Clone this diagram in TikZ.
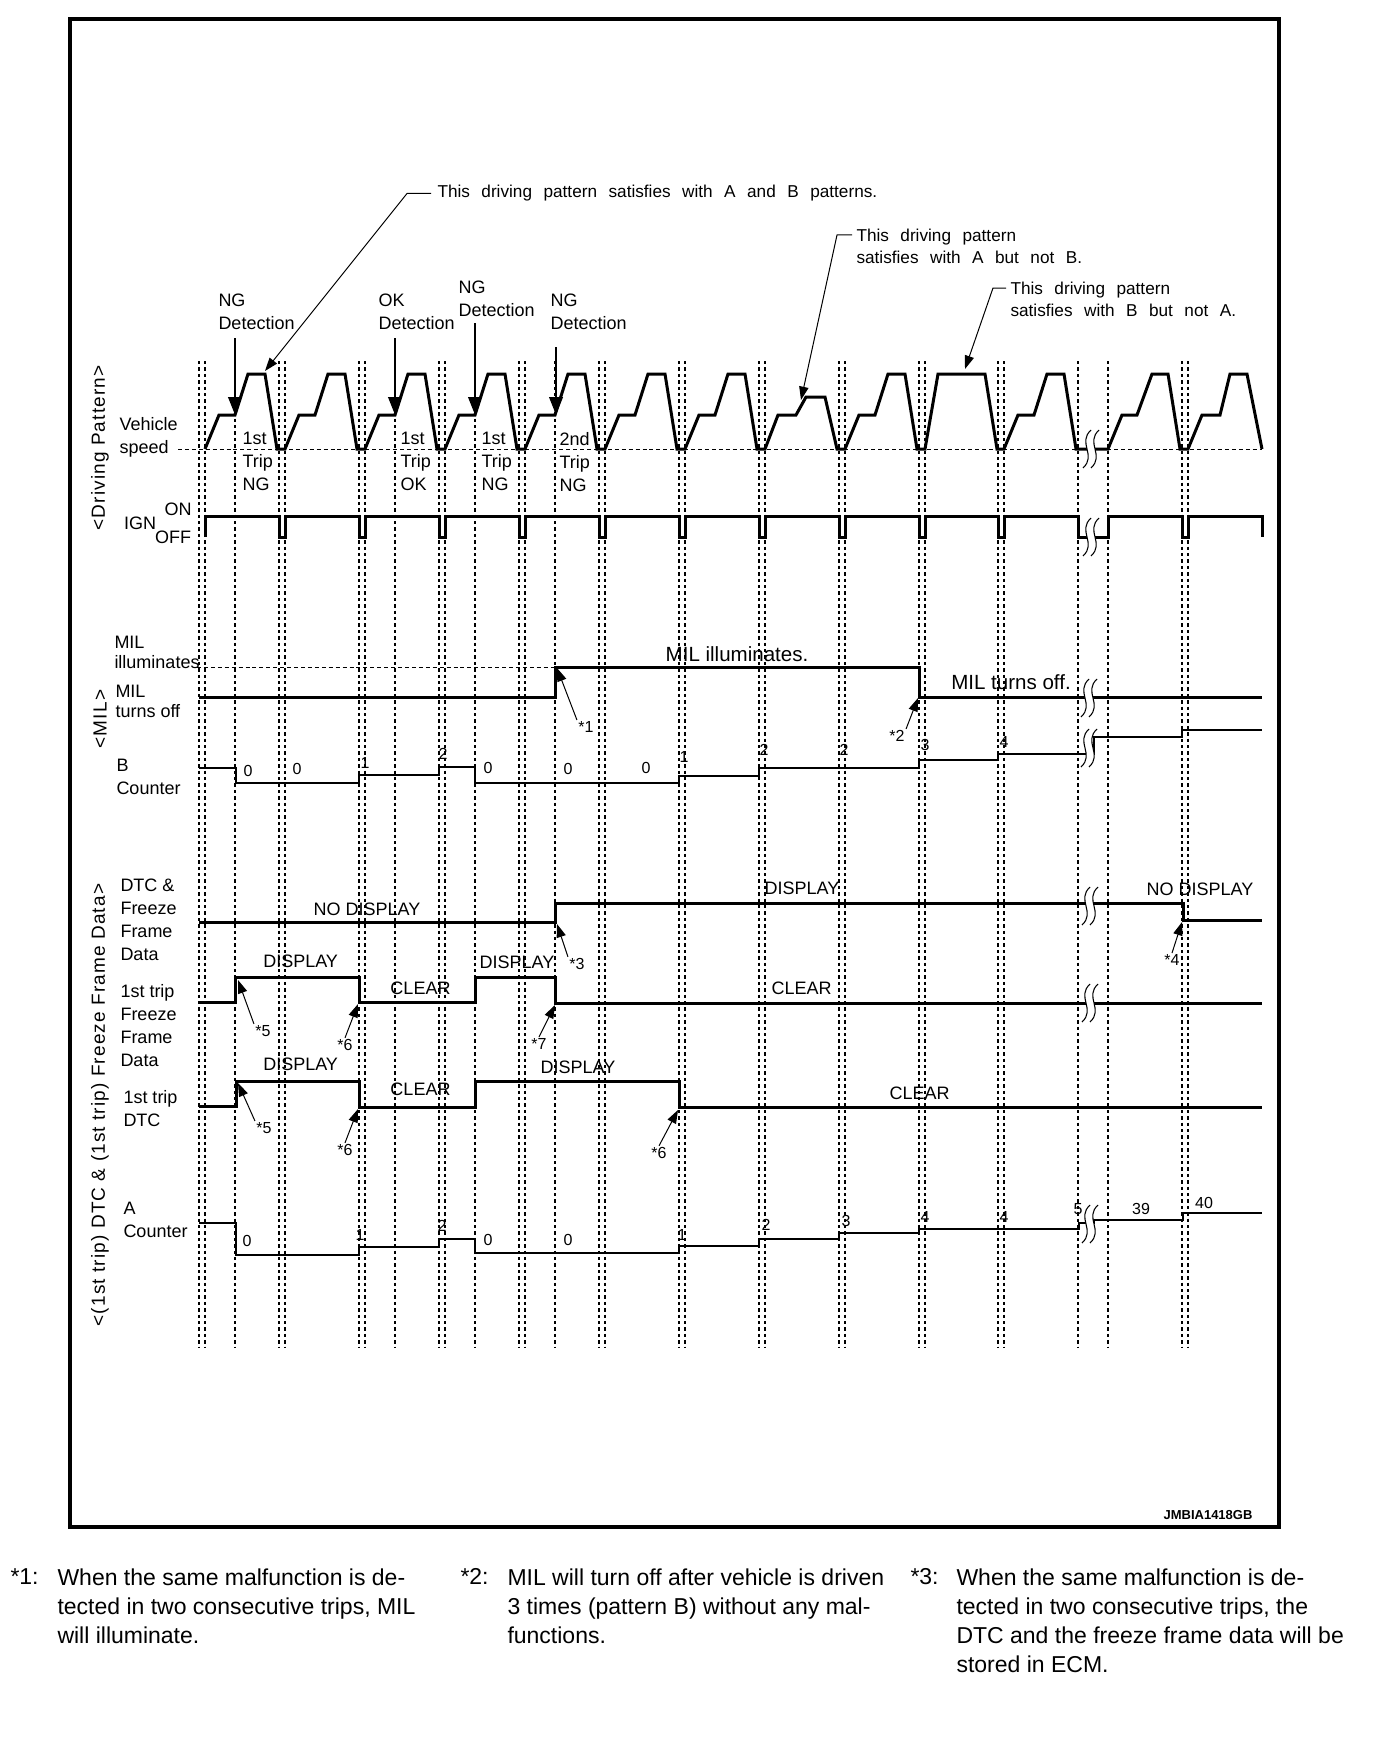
\documentclass[tikz,border=0pt]{standalone}
\usepackage{fontspec}
\setmainfont{Liberation Sans}
\newfontfamily\wideface[WordSpace=2.4]{Liberation Sans}
\newfontfamily\sideface[LetterSpace=6]{Liberation Sans}
\usetikzlibrary{arrows.meta}

\tikzset{every picture/.style={line width=0.75pt}}
\tikzset{
  sig/.style={line width=2.25pt, line join=miter},
  cnt/.style={line width=2pt, line join=miter},
  grid/.style={line width=1.1pt, dash pattern={on 2.6pt off 2.2pt}},
  base/.style={line width=0.7pt, dash pattern={on 3pt off 2.2pt}},
  brk/.style={line width=0.8pt},
  detect/.style={line width=2.2pt, -{Triangle[length=13.5pt,width=10pt]}},
  leader/.style={line width=0.75pt, -{Triangle[length=10pt,width=7pt]}},
  lbl/.style={inner sep=0.75pt, align=left, font=\fontsize{13.5}{17.2}\selectfont},
  rowlbl/.style={lbl, anchor=north west},
  sigtxt/.style={inner sep=0.75pt, font=\fontsize{13.5}{16}\selectfont},
  bigtxt/.style={inner sep=0.75pt, font=\fontsize{15.4}{18}\selectfont},
  numtxt/.style={inner sep=0.75pt, font=\fontsize{12}{14}\selectfont},
  startxt/.style={inner sep=0.75pt, font=\fontsize{12}{14}\selectfont},
  notetxt/.style={inner sep=0.75pt, align=left, anchor=north west, font=\fontsize{17.25}{21.75}\selectfont},
  pattxt/.style={inner sep=0.75pt, align=left, font=\wideface\fontsize{12.9}{16.5}\selectfont},
  sidetxt/.style={inner sep=0.75pt, rotate=90, font=\sideface\fontsize{14.25}{16}\selectfont}
}

% break mark: two S-curves with a white gap
\newcommand{\brkmark}[2]{%
  \fill[white] (#1,#2-19) .. controls (#1-14,#2-6) and (#1+6,#2+6) .. (#1-8,#2+19) -- (#1,#2+19) .. controls (#1+14,#2+6) and (#1-6,#2-6) .. (#1+8,#2-19) -- cycle;
  \draw[brk] (#1,#2-19) .. controls (#1-14,#2-6) and (#1+6,#2+6) .. (#1-8,#2+19);
  \draw[brk] (#1+8,#2-19) .. controls (#1-6,#2-6) and (#1+14,#2+6) .. (#1,#2+19);
}

\begin{document}
\begin{tikzpicture}[x=0.75pt,y=0.75pt,yscale=-1,xscale=1]
\useasboundingbox (0,0) rectangle (1376,1744);

%Frame
\draw [line width=2.6pt] (70,19) rectangle (1279,1527);

%Dashed Lines (trip boundaries and detection points)
\draw [grid] (199,361) -- (199,1347);
\draw [grid] (205,361) -- (205,1347);
\draw [grid] (235,361) -- (235,1347);
\draw [grid] (279,361) -- (279,1347);
\draw [grid] (285,361) -- (285,1347);
\draw [grid] (359,361) -- (359,1347);
\draw [grid] (365,361) -- (365,1347);
\draw [grid] (395,361) -- (395,1347);
\draw [grid] (439,361) -- (439,1347);
\draw [grid] (445,361) -- (445,1347);
\draw [grid] (475,361) -- (475,1347);
\draw [grid] (519,361) -- (519,1347);
\draw [grid] (525,361) -- (525,1347);
\draw [grid] (555,361) -- (555,1347);
\draw [grid] (599,361) -- (599,1347);
\draw [grid] (605,361) -- (605,1347);
\draw [grid] (679,361) -- (679,1347);
\draw [grid] (685,361) -- (685,1347);
\draw [grid] (759,361) -- (759,1347);
\draw [grid] (765,361) -- (765,1347);
\draw [grid] (839,361) -- (839,1347);
\draw [grid] (845,361) -- (845,1347);
\draw [grid] (919,361) -- (919,1347);
\draw [grid] (925,361) -- (925,1347);
\draw [grid] (998,361) -- (998,1347);
\draw [grid] (1004,361) -- (1004,1347);
\draw [grid] (1078,361) -- (1078,1347);
\draw [grid] (1108,361) -- (1108,1347);
\draw [grid] (1182,361) -- (1182,1347);
\draw [grid] (1188,361) -- (1188,1347);

%Straight Lines (speed zero level)
\draw [base] (178,449) -- (1262,449);
%Straight Lines (MIL illuminates level)
\draw [base] (197,667) -- (555,667);

%Vehicle speed
\draw [sig] (205,449) -- (219,415) -- (235,415) -- (248,374) -- (265,374) -- (277,449) -- (285,449)
  -- (299,415) -- (315,415) -- (328,374) -- (345,374) -- (357,449) -- (365,449)
  -- (379,415) -- (395,415) -- (408,374) -- (425,374) -- (437,449) -- (445,449)
  -- (459,415) -- (475,415) -- (488,374) -- (505,374) -- (517,449) -- (525,449)
  -- (539,415) -- (555,415) -- (568,374) -- (585,374) -- (597,449) -- (605,449)
  -- (619,415) -- (635,415) -- (648,374) -- (665,374) -- (677,449) -- (685,449)
  -- (699,415) -- (715,415) -- (728,374) -- (745,374) -- (757,449) -- (765,449)
  -- (778,415) -- (796,415) -- (806,397) -- (825,397) -- (837,449) -- (845,449)
  -- (859,415) -- (875,415) -- (888,374) -- (905,374) -- (917,449) -- (925,449)
  -- (938,374) -- (985,374) -- (997,449) -- (1004,449)
  -- (1018,415) -- (1034,415) -- (1047,374) -- (1064,374) -- (1076,449) -- (1108,449)
  -- (1122,415) -- (1137,415) -- (1152,374) -- (1168,374) -- (1180,449) -- (1188,449)
  -- (1202,415) -- (1220,415) -- (1230,374) -- (1247,374) -- (1262,449);

%IGN
\draw [sig] (205,537) -- (205,516) -- (279,516) -- (279,537) -- (285,537) -- (285,516)
  -- (359,516) -- (359,537) -- (365,537) -- (365,516) -- (439,516) -- (439,537) -- (445,537) -- (445,516)
  -- (519,516) -- (519,537) -- (525,537) -- (525,516) -- (599,516) -- (599,537) -- (605,537) -- (605,516)
  -- (679,516) -- (679,537) -- (685,537) -- (685,516) -- (759,516) -- (759,537) -- (765,537) -- (765,516)
  -- (839,516) -- (839,537) -- (845,537) -- (845,516) -- (919,516) -- (919,537) -- (925,537) -- (925,516)
  -- (998,516) -- (998,537) -- (1004,537) -- (1004,516) -- (1078,516) -- (1078,537) -- (1108,537) -- (1108,516)
  -- (1182,516) -- (1182,537) -- (1188,537) -- (1188,516) -- (1262,516) -- (1262,537);

%MIL
\draw [sig] (199,697) -- (555,697) -- (555,667) -- (919,667) -- (919,697) -- (1262,697);
%B counter
\draw [cnt] (199,768) -- (236,768) -- (236,783) -- (359,783) -- (359,775) -- (439,775) -- (439,767)
  -- (475,767) -- (475,783) -- (679,783) -- (679,776) -- (759,776) -- (759,768) -- (919,768)
  -- (919,760) -- (998,760) -- (998,754) -- (1094,754) -- (1094,737) -- (1182,737) -- (1182,730) -- (1262,730);
%DTC and freeze frame data
\draw [sig] (199,922) -- (555,922) -- (555,903) -- (1183,903) -- (1183,920) -- (1262,920);
%1st trip freeze frame data
\draw [sig] (199,1002) -- (235,1002) -- (235,977) -- (359,977) -- (359,1002) -- (475,1002)
  -- (475,977) -- (555,977) -- (555,1003) -- (1262,1003);
%1st trip DTC
\draw [sig] (199,1106) -- (236,1106) -- (236,1081) -- (359,1081) -- (359,1107) -- (475,1107)
  -- (475,1081) -- (679,1081) -- (679,1107) -- (1262,1107);
%A counter
\draw [cnt] (199,1223) -- (236,1223) -- (236,1255) -- (359,1255) -- (359,1247) -- (439,1247) -- (439,1239)
  -- (475,1239) -- (475,1253) -- (679,1253) -- (679,1246) -- (759,1246) -- (759,1239) -- (839,1239)
  -- (839,1233) -- (919,1233) -- (919,1229) -- (1079,1229) -- (1079,1223) -- (1094,1223) -- (1094,1220)
  -- (1183,1220) -- (1183,1213) -- (1262,1213);

%Break marks
\brkmark{1091}{449}
\brkmark{1091}{537}
\brkmark{1089}{698}
\brkmark{1089}{748}
\brkmark{1090}{906}
\brkmark{1090}{1003}
\brkmark{1090}{1224}

% Text Node (side titles)
\node [sidetxt] (ttlDrive) at (100,448) {<Driving Pattern>};
\node [sidetxt] (ttlMil) at (100,719) {<MIL>};
\node [sidetxt] (ttlDtc) at (100,1105) {<(1st trip) DTC \& (1st trip) Freeze Frame Data>};

% Text Node (row labels)
\node [rowlbl] (lblSpeed) at (118,415.8) {Vehicle\\speed};
\node [sigtxt] (lblIgn) at (140,523) {IGN};
\node [sigtxt] (lblOn) at (178,509.5) {ON};
\node [sigtxt] (lblOff) at (173,537) {OFF};
\node [rowlbl] (lblMilOn) at (113,634.8) {MIL\\[-2.2pt]illuminates};
\node [rowlbl] (lblMilOff) at (114,683.8) {MIL\\[-2.2pt]turns off};
\node [rowlbl] (lblBcnt) at (115,757.8) {B\\Counter};
\node [rowlbl] (lblDtc) at (119,877.8) {DTC \&\\Freeze\\Frame\\Data};
\node [rowlbl] (lblFrz) at (119,982.8) {1st trip\\Freeze\\Frame\\Data};
\node [rowlbl] (lblDtcOne) at (122,1088.8) {1st trip\\DTC};
\node [rowlbl] (lblAcnt) at (122,1200.8) {A\\Counter};

% Text Node (detections)
\node [rowlbl] (detA) at (217,292.8) {NG\\Detection};
\node [rowlbl] (detB) at (377,292.8) {OK\\Detection};
\node [rowlbl] (detC) at (457,279.8) {NG\\Detection};
\node [rowlbl] (detD) at (549,292.8) {NG\\Detection};
\coordinate (dA0) at (235,338);
\coordinate (dA) at (235,415);
\coordinate (dB0) at (395,338);
\coordinate (dB) at (395,415);
\coordinate (dC0) at (475,323);
\coordinate (dC) at (475,415);
\coordinate (dD0) at (556,347);
\coordinate (dD) at (556,415);
\draw [detect] (dA0) -- (dA);
\draw [detect] (dB0) -- (dB);
\draw [detect] (dC0) -- (dC);
\draw [detect] (dD0) -- (dD);

% Text Node (trip results)
\node [rowlbl] (tripA) at (241,430.8) {1st\\Trip\\NG};
\node [rowlbl] (tripB) at (399,430.8) {1st\\Trip\\OK};
\node [rowlbl] (tripC) at (480,430.8) {1st\\Trip\\NG};
\node [rowlbl] (tripD) at (558,430.8) {2nd\\Trip\\NG};

% Text Node (driving pattern notes)
\node [pattxt, anchor=west] (patAB) at (436,193.5) {This driving pattern satisfies with A and B patterns.};
\node [pattxt, anchor=north west] (patA) at (855,227.8) {This driving pattern\\satisfies with A but not B.};
\node [pattxt, anchor=north west] (patB) at (1009,281) {This driving pattern\\satisfies with B but not A.};
\coordinate (cAB1) at (431,193.5);
\coordinate (cAB2) at (407,193.5);
\coordinate (pkA) at (265,371);
\coordinate (cA1) at (852,235);
\coordinate (cA2) at (837,235);
\coordinate (pkB) at (801,400);
\coordinate (cB1) at (1006,288);
\coordinate (cB2) at (993,288);
\coordinate (pkC) at (965,369);
\draw [leader] (cAB1) -- (cAB2) -- (pkA);
\draw [leader] (cA1) -- (cA2) -- (pkB);
\draw [leader] (cB1) -- (cB2) -- (pkC);

% Text Node (signal states)
\node [bigtxt] (milOnTxt) at (737,654) {MIL illuminates.};
\node [bigtxt] (milOffTxt) at (1011,682) {MIL turns off.};
\node [sigtxt] (dtcNo) at (367,909) {NO DISPLAY};
\node [sigtxt] (dtcYes) at (802,888.5) {DISPLAY};
\node [sigtxt] (dtcNoB) at (1200,889) {NO DISPLAY};
\node [sigtxt] (frzYesA) at (300.6,961) {DISPLAY};
\node [sigtxt] (frzClrA) at (420.5,988.5) {CLEAR};
\node [sigtxt] (frzYesB) at (517,962.5) {DISPLAY};
\node [sigtxt] (frzClrB) at (801.7,988) {CLEAR};
\node [sigtxt] (oneYesA) at (300.6,1064.5) {DISPLAY};
\node [sigtxt] (oneClrA) at (420.5,1089.3) {CLEAR};
\node [sigtxt] (oneYesB) at (578,1067) {DISPLAY};
\node [sigtxt] (oneClrB) at (919.5,1093) {CLEAR};

% Text Node (B counter values)
\node [numtxt] (bc1) at (248,771) {0};
\node [numtxt] (bc2) at (297,769) {0};
\node [numtxt] (bc3) at (365,763) {1};
\node [numtxt] (bc4) at (443,754) {2};
\node [numtxt] (bc5) at (488,768) {0};
\node [numtxt] (bc6) at (568,769) {0};
\node [numtxt] (bc7) at (646,768) {0};
\node [numtxt] (bc8) at (684,757) {1};
\node [numtxt] (bc9) at (764,750) {2};
\node [numtxt] (bc10) at (844,750) {2};
\node [numtxt] (bc11) at (925,745) {3};
\node [numtxt] (bc12) at (1004,742) {4};

% Text Node (A counter values)
\node [numtxt] (ac1) at (247,1241) {0};
\node [numtxt] (ac2) at (360,1235) {1};
\node [numtxt] (ac3) at (442,1226) {2};
\node [numtxt] (ac4) at (488,1240) {0};
\node [numtxt] (ac5) at (568,1240) {0};
\node [numtxt] (ac6) at (682,1235) {1};
\node [numtxt] (ac7) at (766,1225) {2};
\node [numtxt] (ac8) at (846,1221) {3};
\node [numtxt] (ac9) at (925,1217) {4};
\node [numtxt] (ac10) at (1004,1217) {4};
\node [numtxt] (ac11) at (1078,1209) {5};
\node [numtxt] (ac12) at (1141,1209) {39};
\node [numtxt] (ac13) at (1204,1203) {40};

% Text Node (note marks) and their arrows
\node [startxt] (st1) at (586,727) {*1};
\node [startxt] (st2) at (897,736) {*2};
\node [startxt] (st3) at (577,964) {*3};
\node [startxt] (st4) at (1172,960) {*4};
\node [startxt] (st5a) at (263,1031) {*5};
\node [startxt] (st6a) at (345,1045) {*6};
\node [startxt] (st7) at (539,1044) {*7};
\node [startxt] (st5b) at (264,1128) {*5};
\node [startxt] (st6b) at (345,1150) {*6};
\node [startxt] (st6c) at (659,1153) {*6};
\coordinate (t1) at (557,668);
\coordinate (t2) at (918,698);
\coordinate (t3) at (557,924);
\coordinate (t4) at (1182,922);
\coordinate (t5a) at (238,980);
\coordinate (t6a) at (358,1004);
\coordinate (t7) at (555,1005);
\coordinate (t5b) at (238,1083);
\coordinate (t6b) at (358,1109);
\coordinate (t6c) at (678,1110);
\draw [leader] (st1.north west) -- (t1);
\draw [leader] (st2.north east) -- (t2);
\draw [leader] (st3.north west) -- (t3);
\draw [leader] (st4.north) -- (t4);
\draw [leader] (st5a.north west) -- (t5a);
\draw [leader] (st6a.north) -- (t6a);
\draw [leader] (st7.north) -- (t7);
\draw [leader] (st5b.north west) -- (t5b);
\draw [leader] (st6b.north) -- (t6b);
\draw [leader] (st6c.north) -- (t6c);

% Text Node (figure code)
\node [inner sep=0.75pt, font=\bfseries\fontsize{9.75}{11}\selectfont] (figCode) at (1208,1515) {JMBIA1418GB};

% Text Node (footnotes)
\node [notetxt] (fnKey1) at (9,1567) {*1:};
\node [notetxt] (fnTxt1) at (56,1567) {When the same malfunction is de-\\tected in two consecutive trips, MIL\\will illuminate.};
\node [notetxt] (fnKey2) at (459,1567) {*2:};
\node [notetxt] (fnTxt2) at (506,1567) {MIL will turn off after vehicle is driven\\3 times (pattern B) without any mal-\\functions.};
\node [notetxt] (fnKey3) at (909,1567) {*3:};
\node [notetxt] (fnTxt3) at (955,1567) {When the same malfunction is de-\\tected in two consecutive trips, the\\DTC and the freeze frame data will be\\stored in ECM.};
\end{tikzpicture}
\end{document}
